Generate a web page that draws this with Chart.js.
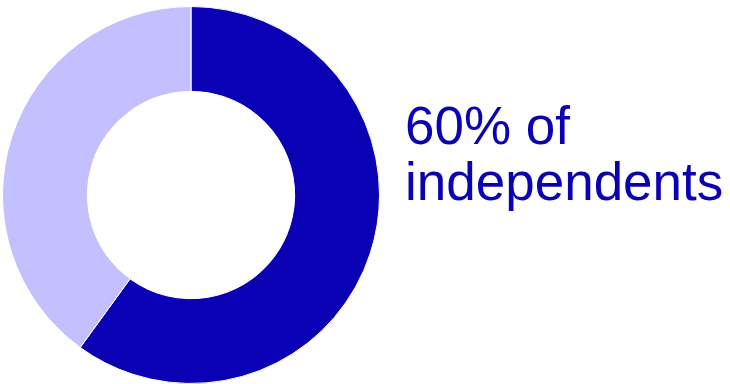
<!DOCTYPE html>
<html>
<head>
<meta charset="utf-8">
<script src="https://cdn.jsdelivr.net/npm/chart.js@4/dist/chart.umd.min.js"></script>
<style>
  html, body { margin: 0; padding: 0; background: #ffffff; }
  body { width: 730px; height: 384px; position: relative; overflow: hidden; }
  #wrap { position: absolute; left: 0; top: 0; width: 382px; height: 384px; }
  #caption {
    position: absolute; left: 405px; top: 98px;
    font-family: "Liberation Sans", Arial, sans-serif;
    font-size: 53px; line-height: 56px; color: #0a00b4;
    white-space: nowrap;
  }
</style>
</head>
<body>
<div id="wrap"><canvas id="chart"></canvas></div>
<div id="caption">60% of<br>independents</div>
<script>
// Share of independents vs. the rest
const categories = ["Independents", "Others"];
const shares = [60, 40];
const sliceColors = ["#0a00b4", "#c4c0ff"];

new Chart(document.getElementById("chart"), {
  type: "doughnut",
  data: {
    labels: categories,
    datasets: [{
      data: shares,
      backgroundColor: sliceColors,
      borderColor: "#ffffff",
      borderWidth: 1,
      hoverOffset: 0
    }]
  },
  options: {
    responsive: true,
    maintainAspectRatio: false,
    animation: false,
    cutout: "55%",
    layout: { padding: { top: 6, left: 2, right: 2, bottom: 0 } },
    plugins: {
      legend: { display: false },
      tooltip: { enabled: false }
    }
  }
});
</script>
</body>
</html>
